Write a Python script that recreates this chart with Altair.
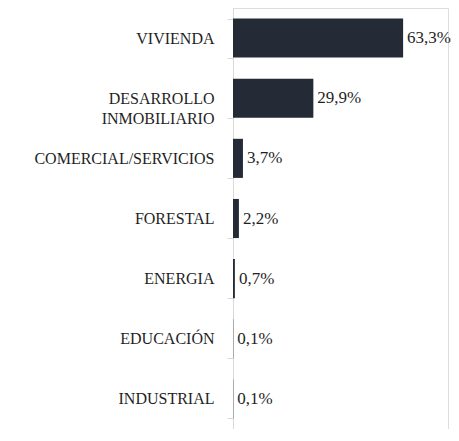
import altair as alt
import pandas as pd

categories = ["VIVIENDA", "DESARROLLO INMOBILIARIO", "COMERCIAL/SERVICIOS",
              "FORESTAL", "ENERGIA", "EDUCACIÓN", "INDUSTRIAL"]
values = [63.3, 29.9, 3.7, 2.2, 0.7, 0.1, 0.1]
labels = [f"{v:.1f}".replace(".", ",") + "%" for v in values]

df = pd.DataFrame({"cat": categories, "val": values, "lab": labels})

y_enc = alt.Y(
    "cat:N", sort=categories, title=None,
    scale=alt.Scale(paddingInner=0.35, paddingOuter=0.175),
    axis=alt.Axis(
        domainColor="#d9d9d9", tickColor="#d9d9d9", tickSize=6, tickBand="extent",
        labelFont="Liberation Serif", labelFontSize=16, labelColor="#1f1f1f",
        labelPadding=13, labelLineHeight=20, labelLimit=300,
        labelExpr="datum.label == 'DESARROLLO INMOBILIARIO' ? ['DESARROLLO', 'INMOBILIARIO'] : datum.label",
    ),
)
x_enc = alt.X("val:Q", scale=alt.Scale(domain=[0, 80]), axis=None)

bars = alt.Chart(df).mark_bar(color="#242a36").encode(x=x_enc, y=y_enc)
text = alt.Chart(df).mark_text(
    align="left", baseline="middle", dx=4, font="Liberation Serif",
    fontSize=17, color="#1f1f1f"
).encode(x=x_enc, y=alt.Y("cat:N", sort=categories), text="lab:N")

chart = (bars + text).properties(
    width=215, height=421,
    autosize=alt.AutoSizeParams(type="none"),
    padding={"left": 225, "top": 0, "right": 3, "bottom": 0},
).configure_view(stroke=None).configure(background="white")

chart.save("out.html", embed_options={"renderer": "svg", "actions": False})
